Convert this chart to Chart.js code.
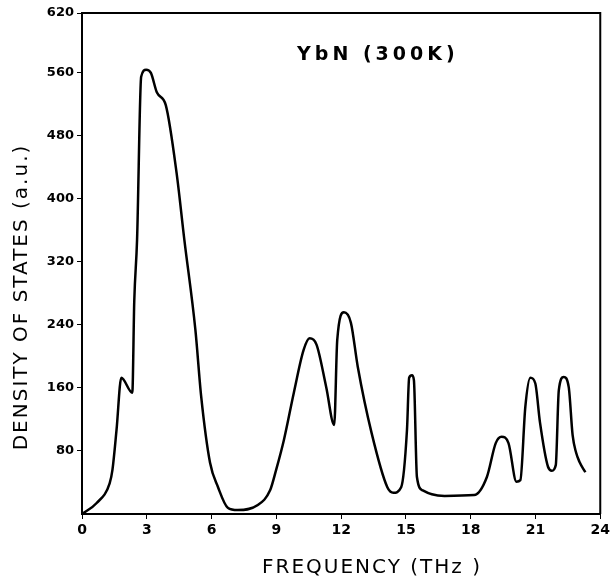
<!DOCTYPE html>
<html lang="en">
<head>
    <meta charset="UTF-8">
    <title>YbN phonon density of states</title>
    <style>
        html, body { margin: 0; padding: 0; background: #fff; }
        #wrap { width: 613px; height: 584px; }
    </style>
</head>
<body>
    <div id="wrap"><canvas id="dosChart" width="613" height="584"></canvas></div>

    <script src="https://cdn.jsdelivr.net/npm/chart.js"></script>
    <script>
        // frequency (THz) and density of states
        const freq = [0, 0.68, 1.28, 1.41, 1.60, 1.82, 2.33, 2.42, 2.55, 2.74, 2.97, 3.19, 3.47, 3.88,
            4.38, 4.74, 5.25, 5.52, 5.93, 6.30, 6.75, 7.21, 8.12, 8.71, 8.99, 9.35, 9.81, 10.26,
            10.54, 10.86, 11.31, 11.68, 11.82, 12.13, 12.45, 12.77, 13.41, 14.14, 14.42, 14.78,
            15.05, 15.15, 15.28, 15.37, 15.51, 15.78, 16.20, 16.79, 18.16, 18.75, 19.16, 19.43,
            19.75, 20.12, 20.30, 20.53, 20.76, 20.99, 21.21, 21.58, 21.76, 21.94, 22.08, 22.31, 22.54,
            22.72, 22.88, 23.04, 23.31];
        const dos = [0, 14, 39, 56, 107, 173, 154, 270, 348, 555, 564, 560, 535, 519,
            433, 348, 234, 149, 65, 34, 8, 5, 11, 30, 56, 94, 154, 208,
            223, 215, 161, 113, 221, 256, 243, 187, 103, 34, 27, 34,
            107, 173, 176, 170, 47, 30, 25, 23, 24, 47, 90, 98,
            90, 41, 43, 136, 173, 166, 116, 60, 55, 62, 157, 174, 161,
            100, 78, 66, 53];

        const xTickLabels = ['0', '3', '6', '9', '12', '15', '18', '21', '24'];
        const yTickValues = [80, 160, 240, 320, 400, 480, 560];
        const yTopLabel = '620';
        const yMax = 636; // top of the frame, labelled 620 in the original

        const xTitle = 'FREQUENCY (THz )';
        const yTitle = 'DENSITY OF STATES (a.u.)';
        const sampleLabel = 'YbN (300K)';

        const fontFamily = '"DejaVu Sans", sans-serif';

        // draws the box frame and the hand-placed texts
        const decorations = {
            id: 'decorations',
            afterDraw(chart) {
                const { ctx, chartArea: a, scales } = chart;
                ctx.save();
                ctx.strokeStyle = '#000';
                ctx.lineWidth = 2;
                ctx.beginPath();
                ctx.moveTo(a.left, a.top);
                ctx.lineTo(a.right, a.top);
                ctx.lineTo(a.right, a.bottom);
                ctx.stroke();

                ctx.fillStyle = '#000';
                ctx.textAlign = 'center';
                ctx.textBaseline = 'middle';
                ctx.font = '20px ' + fontFamily;
                ctx.letterSpacing = '2px';
                ctx.fillText(xTitle, 372, 568);

                ctx.translate(22, 297);
                ctx.rotate(-Math.PI / 2);
                ctx.fillText(yTitle, 0, 0);
                ctx.restore();

                ctx.save();
                ctx.fillStyle = '#000';
                ctx.textAlign = 'center';
                ctx.textBaseline = 'middle';
                ctx.font = 'bold 19px ' + fontFamily;
                ctx.letterSpacing = '4px';
                ctx.fillText(sampleLabel, scales.x.getPixelForValue(13.7), scales.y.getPixelForValue(582));
                ctx.restore();
            }
        };

        const ctx = document.getElementById('dosChart').getContext('2d');
        const chart = new Chart(ctx, {
            type: 'line',
            data: {
                datasets: [{
                    data: freq.map((f, i) => ({ x: f, y: dos[i] })),
                    borderColor: '#000',
                    borderWidth: 2.5,
                    pointRadius: 0,
                    fill: false,
                    cubicInterpolationMode: 'monotone'
                }]
            },
            options: {
                responsive: false,
                animation: false,
                layout: { padding: { top: 13, right: 5, left: 0, bottom: 0 } },
                plugins: {
                    legend: { display: false },
                    tooltip: { enabled: false }
                },
                scales: {
                    x: {
                        type: 'linear',
                        min: 0,
                        max: 24,
                        afterFit: (s) => { s.height = 70; },
                        ticks: {
                            stepSize: 3,
                            color: '#000',
                            padding: 3,
                            font: { family: fontFamily, size: 14, weight: 'bold' },
                            callback: (v) => xTickLabels[Math.round(v / 3)]
                        },
                        grid: { drawOnChartArea: false, color: '#000', tickLength: 5 },
                        border: { color: '#000', width: 2 }
                    },
                    y: {
                        min: 0,
                        max: yMax,
                        afterFit: (s) => { s.width = 82; },
                        afterBuildTicks: (s) => {
                            s.ticks = yTickValues.concat([yMax]).map(v => ({ value: v }));
                        },
                        ticks: {
                            color: '#000',
                            padding: 3,
                            font: { family: fontFamily, size: 13, weight: 'bold' },
                            callback: (v) => v === yMax ? yTopLabel : String(v)
                        },
                        grid: { drawOnChartArea: false, color: '#000', tickLength: 5 },
                        border: { color: '#000', width: 2 }
                    }
                }
            },
            plugins: [decorations]
        });
    </script>
</body>
</html>
